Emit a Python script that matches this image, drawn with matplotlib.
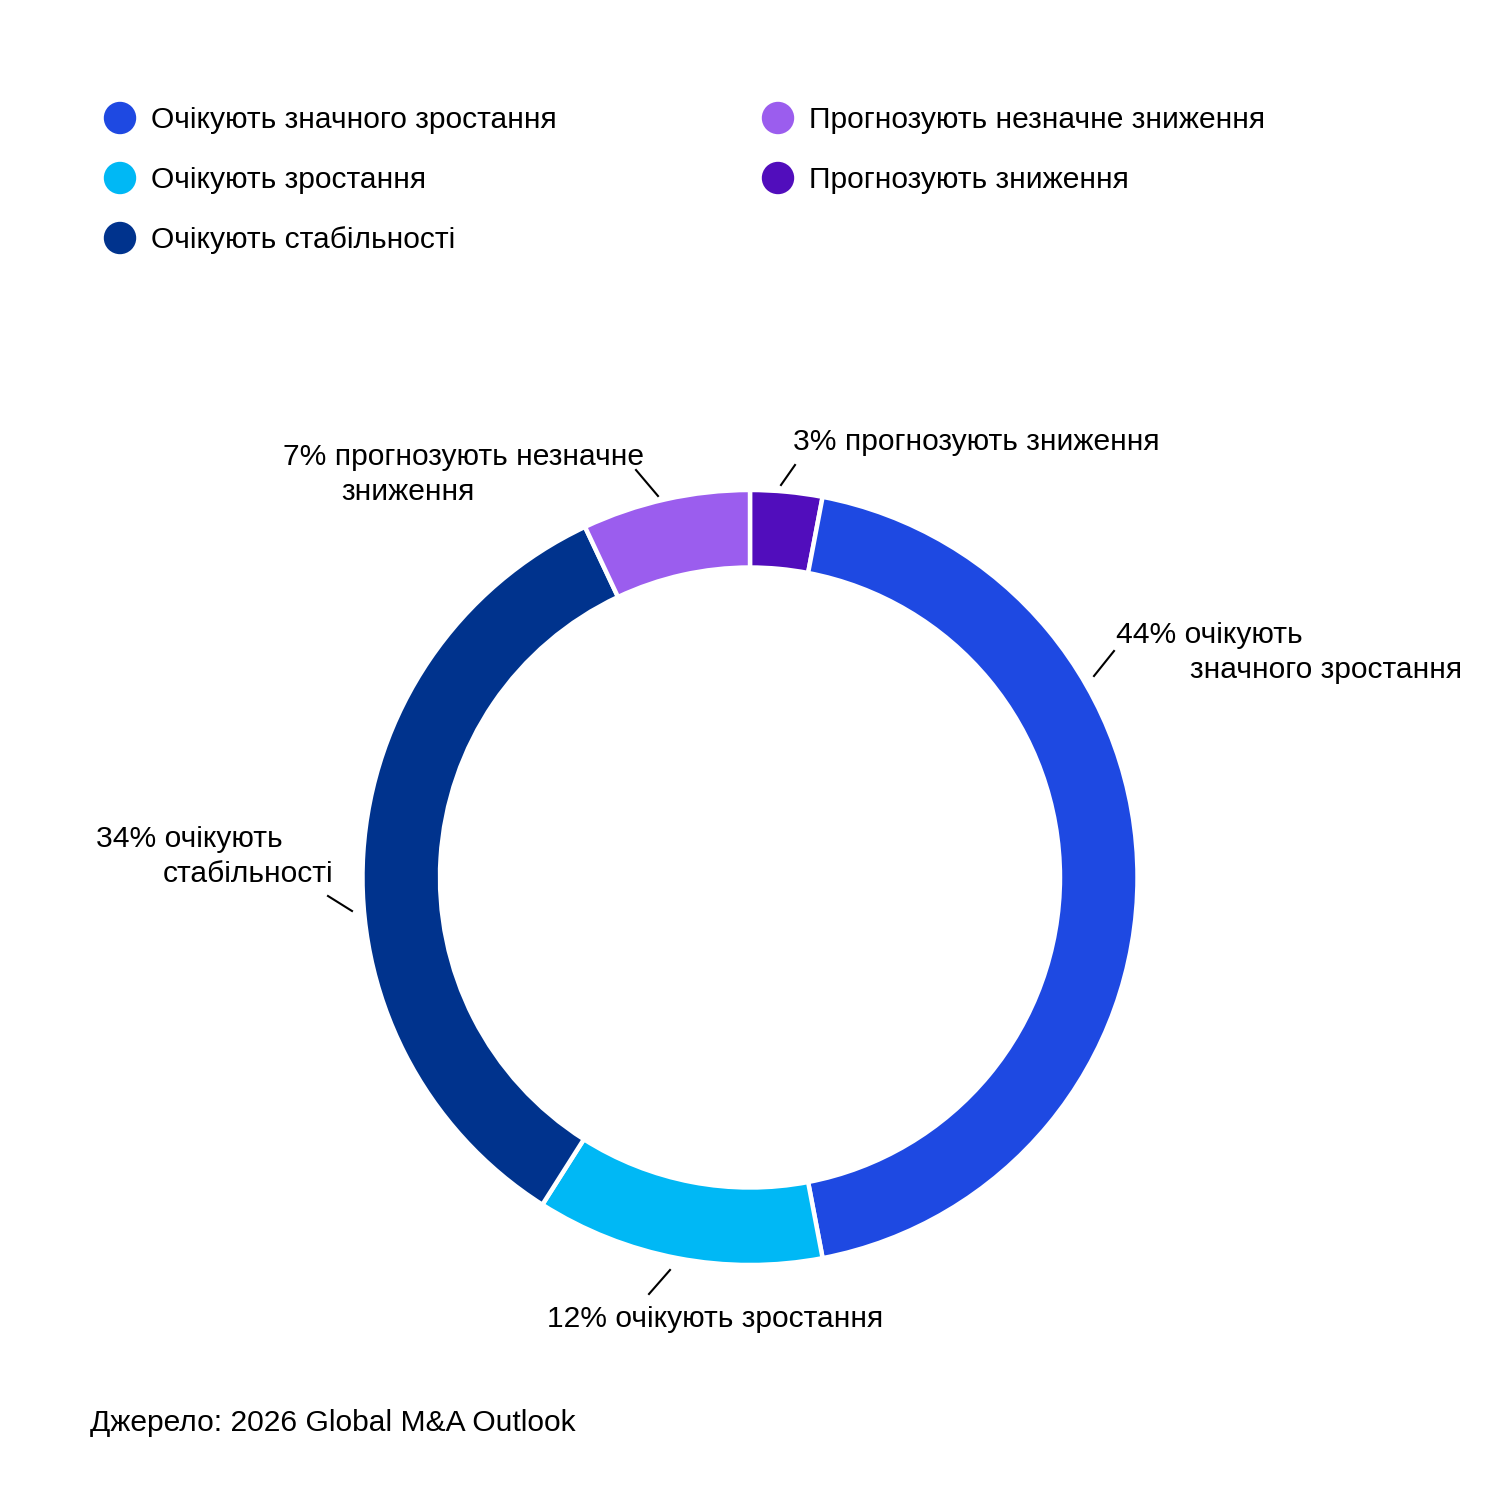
import matplotlib
matplotlib.use("Agg")
import matplotlib.pyplot as plt
from matplotlib.lines import Line2D

plt.rcParams['font.family'] = ['Liberation Sans', 'DejaVu Sans']

# data, clockwise from 12 o'clock
categories = ['Прогнозують зниження', 'Очікують значного зростання', 'Очікують зростання',
              'Очікують стабільності', 'Прогнозують незначне зниження']
values = [3, 44, 12, 34, 7]
colors = ['#510DBC', '#1E49E2', '#00B8F5', '#00338D', '#9B5DEE']

legend_order = [1, 2, 3, 4, 0]
source = 'Джерело: 2026 Global M&A Outlook'

W = H = 1500
FS = 21.6
fig = plt.figure(figsize=(15, 15), dpi=100)


def px(x, y):
    # pixel position (from top-left) -> figure fraction
    return x / W, 1 - y / H


# donut
cx, cy, r = 750, 877.5, 387.5
ax = fig.add_axes([(cx - r) / W, (H - cy - r) / H, 2 * r / W, 2 * r / H])
ax.pie(values, colors=colors, startangle=90, counterclock=False, radius=1,
       wedgeprops=dict(width=0.2, edgecolor='white', linewidth=3.2))
ax.set_xlim(-1, 1)
ax.set_ylim(-1, 1)
ax.set_aspect('equal')
ax.axis('off')

# legend (two columns)
leg_pos = [(120, 118), (120, 178), (120, 238), (778, 118), (778, 178)]
for (x, y), i in zip(leg_pos, legend_order):
    fig.patches.append(plt.Circle(px(x, y), 15.5 / W, color=colors[i],
                                  transform=fig.transFigure, figure=fig))
    fig.text(*px(x + 31, y + 2), categories[i], fontsize=FS, va='center', ha='left')

# slice labels
labels = [
    ('7% прогнозують незначне', 283, 455), ('зниження', 341, 490),
    ('3% прогнозують зниження', 793, 440),
    ('44% очікують', 1116, 633), ('значного зростання', 1190, 668),
    ('34% очікують', 96, 837), ('стабільності', 163, 872),
    ('12% очікують зростання', 547, 1317),
]
for txt, x, y in labels:
    fig.text(*px(x, y + 2), txt, fontsize=FS, va='center', ha='left')

leaders = [((636, 470), (658, 496)), ((781, 485), (795, 465)),
           ((1094, 676), (1114, 651)), ((328, 896), (352, 911)),
           ((649, 1294), (670, 1270))]
for (x0, y0), (x1, y1) in leaders:
    a, b = px(x0, y0), px(x1, y1)
    fig.add_artist(Line2D([a[0], b[0]], [a[1], b[1]], color='black', lw=1.5,
                          transform=fig.transFigure))

fig.text(*px(90, 1423), source, fontsize=FS, va='center', ha='left')

fig.savefig('out.png', dpi=100, facecolor='white')
